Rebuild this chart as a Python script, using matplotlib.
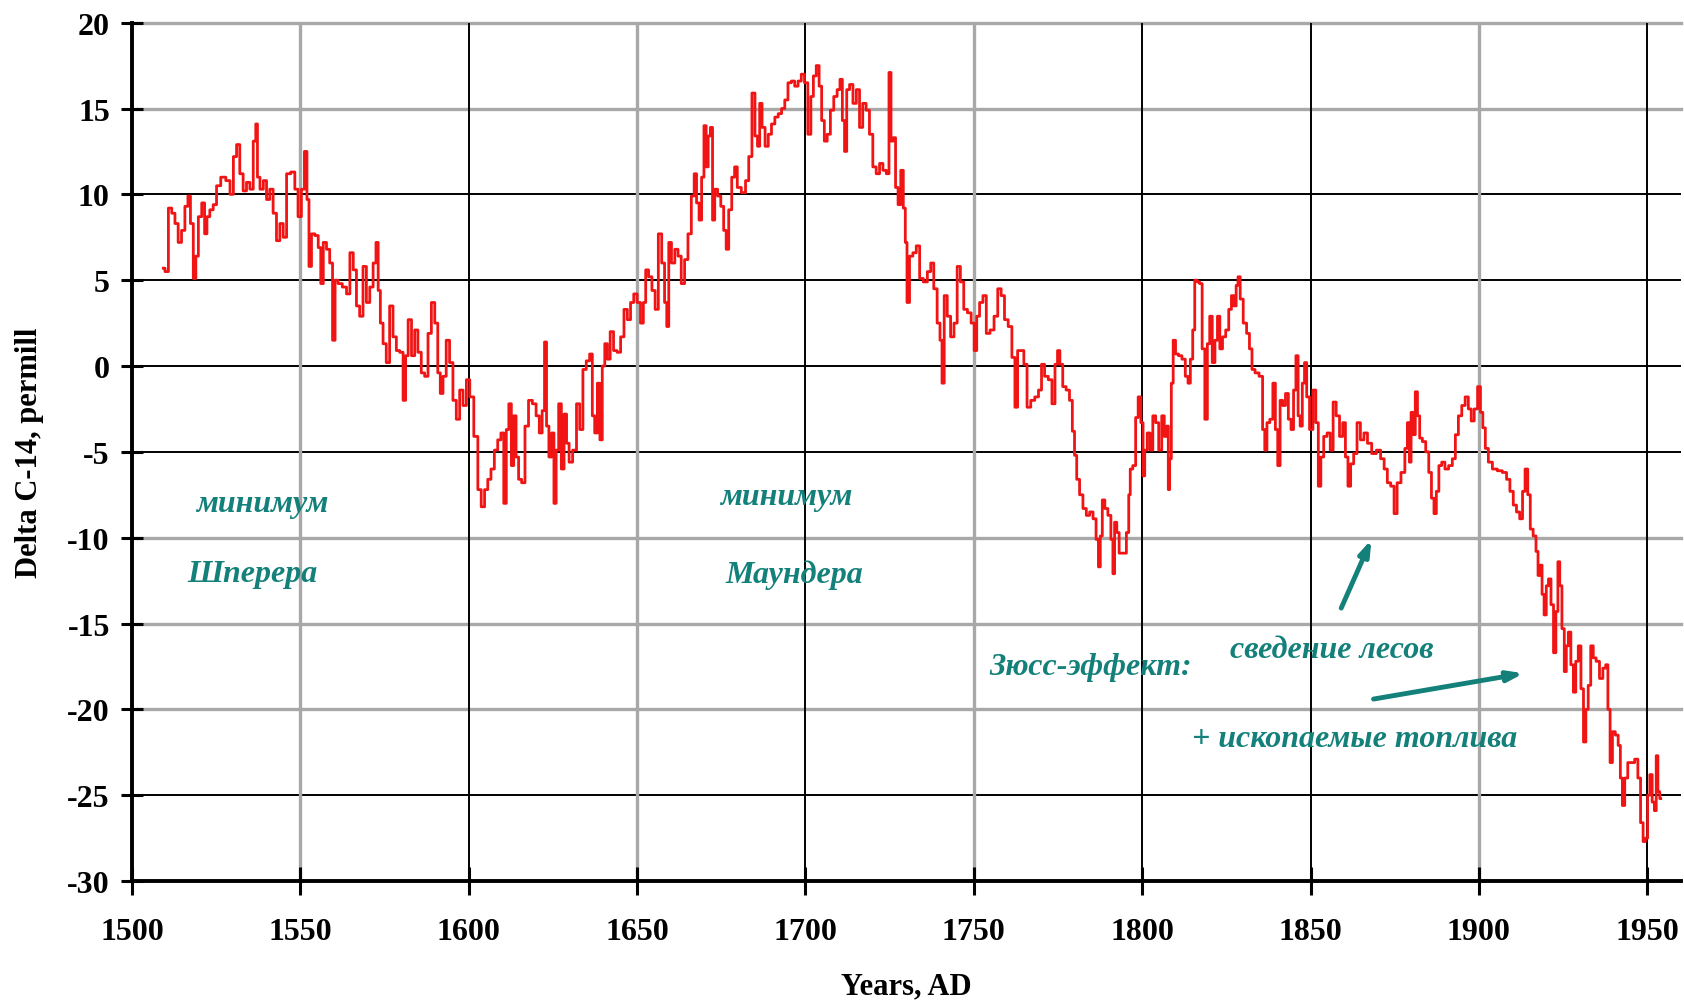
import matplotlib
matplotlib.use('Agg')
import matplotlib.pyplot as plt
import numpy as np

plt.rcParams['font.family'] = ['Liberation Serif', 'DejaVu Serif']
plt.rcParams['axes.unicode_minus'] = False

# Delta C-14 (permill), (year, value), by period
seg_1500 = [(1509.3, 5.7), (1510.3, 5.5), (1511.3, 9.2), (1512.3, 8.9), (1513.2, 8.3), (1514.2, 7.2),
            (1515.2, 7.9), (1516.2, 9.3), (1517.0, 9.9), (1517.7, 8.3), (1518.7, 5.1), (1519.2, 6.4),
            (1520.2, 8.7), (1521.2, 9.5), (1521.9, 7.7), (1522.6, 8.7), (1523.6, 9.1), (1524.6, 9.4),
            (1525.6, 10.5), (1527.1, 11.0), (1528.6, 10.8), (1529.6, 10.0), (1530.6, 12.2), (1531.5, 12.9),
            (1532.5, 11.2), (1533.5, 10.2), (1534.5, 10.7), (1535.5, 10.3), (1536.5, 13.1), (1537.0, 14.1),
            (1537.5, 11.0), (1538.5, 10.3), (1539.5, 10.8), (1540.4, 9.7), (1541.4, 10.3), (1542.4, 8.9),
            (1543.4, 7.3), (1544.4, 8.3), (1545.4, 7.5), (1546.4, 11.2), (1547.9, 11.3), (1548.8, 10.3),
            (1549.8, 8.7), (1550.8, 10.3), (1551.6, 12.5), (1552.3, 9.7), (1552.8, 5.8), (1553.8, 7.7),
            (1554.8, 7.6), (1555.8, 6.9), (1556.3, 4.8), (1557.3, 7.2), (1558.2, 6.8), (1559.2, 6.0),
            (1559.9, 1.5), (1560.7, 5.0), (1561.7, 4.8), (1563.2, 4.6), (1564.2, 4.2), (1565.2, 6.6),
            (1566.2, 5.6), (1567.1, 3.5), (1568.1, 2.9), (1569.1, 5.8), (1570.1, 3.7), (1571.1, 4.6),
            (1572.1, 6.0), (1572.8, 7.2), (1573.4, 4.4), (1574.1, 2.5), (1575.0, 1.3), (1576.0, 0.2),
            (1577.0, 3.5), (1578.0, 1.7), (1579.0, 0.9), (1580.0, 0.8), (1581.0, -2.0), (1581.5, 0.6),
            (1582.5, 2.7), (1583.5, 0.6), (1584.4, 2.1), (1585.4, 0.8), (1586.4, -0.4), (1587.4, -0.6),
            (1588.4, 1.9), (1589.4, 3.7), (1590.4, 2.5), (1591.2, -0.4), (1591.9, -1.6), (1592.8, -0.6),
            (1593.8, 1.5), (1594.8, 0.2), (1595.8, -2.0), (1596.8, -3.1), (1597.8, -1.4), (1598.8, -2.3),
            (1599.8, -0.8)]

seg_1600 = [(1600.8, -1.8), (1602.2, -4.1), (1603.2, -7.2), (1604.2, -8.2), (1605.2, -7.2), (1606.1, -6.6),
            (1607.1, -6.0), (1608.1, -4.9), (1609.1, -4.3), (1610.0, -3.9), (1610.8, -8.0), (1611.5, -3.7),
            (1612.3, -2.2), (1613.0, -5.8), (1613.7, -2.9), (1614.4, -5.3), (1615.2, -6.6), (1616.2, -6.8),
            (1617.2, -3.5), (1618.3, -2.0), (1619.5, -2.2), (1620.5, -2.9), (1621.4, -3.9), (1622.2, -2.6),
            (1622.8, 1.4), (1623.4, -3.5), (1624.2, -5.3), (1625.0, -3.9), (1625.6, -8.0), (1626.3, -4.9),
            (1627.1, -2.2), (1627.9, -6.0), (1628.7, -2.8), (1629.4, -4.5), (1630.2, -5.6), (1631.5, -4.9),
            (1632.5, -2.2), (1633.4, -3.7), (1634.4, -0.2), (1635.4, 0.3), (1636.4, 0.7), (1637.0, -2.9),
            (1637.8, -3.9), (1638.6, -1.0), (1639.3, -4.3), (1640.0, 0.0), (1640.8, 1.3), (1641.5, 0.4),
            (1642.5, 2.0), (1643.5, 0.9), (1644.6, 0.8), (1645.6, 1.7), (1646.6, 3.3), (1647.6, 2.7),
            (1648.5, 3.7), (1649.5, 4.2), (1650.5, 3.7), (1651.5, 2.5), (1652.2, 3.7), (1652.9, 5.6),
            (1653.9, 5.2), (1654.9, 4.4), (1655.8, 3.3), (1656.8, 7.7), (1657.8, 6.0), (1658.5, 3.7),
            (1659.1, 2.3), (1659.7, 7.2), (1660.7, 6.0), (1661.7, 6.8), (1662.6, 6.4), (1663.6, 4.8),
            (1664.6, 6.2), (1665.6, 7.7), (1666.6, 9.9), (1667.3, 11.2), (1668.0, 9.5), (1668.8, 8.5),
            (1669.5, 11.0), (1670.2, 14.0), (1670.8, 11.6), (1671.4, 13.4), (1672.1, 13.9), (1672.7, 8.5),
            (1673.4, 10.3), (1674.4, 9.9), (1675.3, 9.3), (1676.1, 7.9), (1676.8, 6.8), (1677.6, 9.1),
            (1678.6, 11.0), (1679.3, 11.6), (1680.2, 10.4), (1681.7, 10.1), (1682.7, 10.8), (1683.6, 12.2),
            (1684.6, 15.9), (1685.4, 13.4), (1686.1, 12.8), (1686.7, 15.3), (1687.5, 13.9), (1688.5, 12.8),
            (1689.4, 13.5), (1690.4, 14.1), (1691.4, 14.5), (1692.4, 14.7), (1693.4, 15.0), (1694.3, 15.5),
            (1695.3, 16.5), (1696.3, 16.6), (1697.3, 16.3), (1698.3, 16.6), (1699.2, 17.0)]

seg_1700 = [(1700.2, 16.5), (1701.2, 13.5), (1702.0, 15.7), (1702.7, 16.9), (1703.7, 17.5), (1704.4, 16.3),
            (1705.2, 14.3), (1706.0, 13.1), (1706.9, 13.5), (1707.9, 14.9), (1708.9, 15.7), (1709.9, 16.1),
            (1710.6, 16.7), (1711.3, 14.3), (1711.9, 12.5), (1712.6, 16.1), (1713.6, 16.4), (1714.6, 15.3),
            (1715.6, 16.1), (1716.5, 13.9), (1717.5, 15.3), (1718.5, 14.9), (1719.5, 13.5), (1720.5, 11.6),
            (1721.5, 11.2), (1722.5, 11.8), (1723.5, 11.4), (1724.5, 11.2), (1725.1, 17.1), (1725.7, 13.1),
            (1726.4, 13.3), (1727.1, 10.4), (1727.9, 9.4), (1728.7, 11.4), (1729.4, 9.2), (1729.9, 7.2),
            (1730.4, 3.7), (1731.4, 6.4), (1732.4, 6.6), (1733.4, 7.0), (1734.4, 5.1), (1735.6, 4.9),
            (1736.8, 5.5), (1737.6, 6.0), (1738.6, 4.5), (1739.6, 2.5), (1740.3, 1.5), (1740.8, -1.0),
            (1741.6, 4.1), (1742.6, 2.9), (1743.6, 1.7), (1744.6, 2.5), (1745.5, 5.8), (1746.5, 4.9),
            (1747.5, 3.3), (1748.7, 3.1), (1749.7, 2.5), (1750.5, 0.9), (1751.2, 2.9), (1752.2, 3.7),
            (1753.2, 4.1), (1754.2, 1.9), (1755.4, 2.1), (1756.6, 2.9), (1757.6, 4.5), (1758.6, 4.1),
            (1759.6, 2.7), (1760.8, 2.3), (1761.8, 0.5), (1762.6, -2.4), (1763.4, 0.9), (1764.4, 0.9),
            (1765.3, 0.1), (1766.3, -2.4), (1767.5, -2.0), (1768.7, -1.8), (1769.7, -1.4), (1770.5, 0.1),
            (1771.5, -0.6), (1772.7, -0.8), (1773.7, -2.2), (1774.5, 0.1), (1775.2, 0.9), (1775.9, 0.1),
            (1776.9, -1.2), (1777.9, -1.4), (1778.9, -2.0), (1779.6, -3.8), (1780.2, -5.2), (1780.9, -6.6),
            (1781.9, -7.5), (1782.9, -8.3), (1783.9, -8.7), (1784.9, -8.5), (1785.9, -8.9), (1786.7, -10.1),
            (1787.3, -11.7), (1787.8, -9.9), (1788.5, -7.8), (1789.3, -8.3), (1790.3, -8.7), (1791.1, -10.1),
            (1791.5, -12.1), (1792.1, -9.1), (1792.8, -9.7), (1793.5, -10.9), (1794.8, -10.9), (1795.8, -9.7),
            (1796.2, -7.5), (1796.7, -6.0), (1797.7, -5.8), (1798.4, -3.0), (1799.2, -1.8)]

seg_1800 = [(1800.0, -3.3), (1800.5, -6.4), (1801.0, -4.9), (1802.0, -3.9), (1802.7, -4.9), (1803.6, -2.9),
            (1804.4, -3.3), (1805.4, -4.9), (1806.2, -2.9), (1806.9, -4.1), (1807.6, -3.5), (1807.9, -7.2),
            (1808.4, -5.4), (1808.9, -1.0), (1809.5, 1.5), (1810.3, 0.7), (1811.3, 0.6), (1812.3, 0.4),
            (1813.3, -0.6), (1813.9, -1.0), (1814.7, 0.4), (1815.3, 2.1), (1815.9, 5.0), (1816.7, 4.9),
            (1817.4, 4.8), (1818.2, 1.0), (1819.0, -3.1), (1819.7, 1.3), (1820.4, 2.9), (1821.2, 0.2),
            (1822.0, 1.5), (1822.7, 2.9), (1823.4, 1.0), (1824.3, 1.7), (1825.3, 2.1), (1826.1, 3.3),
            (1826.9, 4.1), (1827.6, 3.5), (1828.2, 4.7), (1828.7, 5.2), (1829.5, 3.9), (1830.5, 2.5),
            (1831.5, 1.9), (1832.2, 1.0), (1833.0, -0.2), (1834.0, -0.4), (1835.4, -0.6), (1836.1, -3.7),
            (1836.7, -4.9), (1837.4, -3.3), (1838.4, -3.1), (1839.2, -1.0), (1839.9, -3.7), (1840.6, -5.8),
            (1841.3, -2.0), (1842.1, -2.3), (1843.0, -1.6), (1843.8, -3.1), (1844.6, -3.7), (1845.3, -1.4),
            (1846.0, 0.6), (1846.6, -2.9), (1847.2, -3.5), (1847.9, -1.0), (1848.5, 0.2), (1849.2, -1.8),
            (1850.2, -3.7), (1851.2, -1.4), (1851.9, -3.3), (1852.7, -7.0), (1853.4, -5.3), (1854.4, -4.1),
            (1855.4, -3.9), (1856.3, -4.9), (1857.1, -2.1), (1858.1, -2.9), (1859.1, -4.1), (1860.0, -3.3),
            (1860.7, -5.3), (1861.5, -7.0), (1862.3, -5.7), (1863.3, -5.1), (1864.3, -3.3), (1865.3, -4.3),
            (1866.4, -3.9), (1867.4, -4.5), (1868.9, -5.1), (1870.2, -4.9), (1871.4, -5.4), (1872.3, -6.0),
            (1873.3, -6.8), (1874.3, -7.0), (1875.3, -8.6), (1876.1, -6.8)]

seg_1900 = [(1877.6, -6.2), (1878.4, -4.8), (1879.1, -3.3), (1879.6, -5.6), (1880.1, -2.7), (1880.8, -4.0),
            (1881.4, -1.5), (1882.1, -2.9), (1882.7, -4.2), (1883.7, -4.4), (1884.7, -5.0), (1885.5, -6.2),
            (1886.3, -7.7), (1887.0, -8.6), (1887.7, -7.3), (1888.5, -5.8), (1889.4, -5.6), (1890.4, -6.0),
            (1891.6, -5.8), (1892.6, -5.4), (1893.4, -4.0), (1894.4, -2.9), (1895.4, -2.3), (1896.4, -1.8),
            (1897.3, -2.5), (1898.1, -3.2), (1899.1, -2.5), (1900.1, -1.2), (1900.8, -2.7), (1901.5, -3.6),
            (1902.3, -4.8), (1903.3, -5.6), (1904.7, -6.0), (1906.2, -6.1), (1907.7, -6.2), (1908.7, -6.6),
            (1909.7, -7.3), (1910.7, -8.1), (1911.6, -8.5), (1912.6, -8.9), (1913.3, -7.3), (1914.1, -6.0),
            (1914.9, -7.5), (1915.6, -9.5), (1916.6, -9.9), (1917.3, -10.8), (1917.8, -12.2), (1918.5, -11.6),
            (1919.0, -13.3), (1919.7, -14.5), (1920.3, -12.8), (1921.0, -12.4), (1921.8, -13.9), (1922.5, -16.7),
            (1923.2, -14.3), (1923.7, -11.4), (1924.3, -12.8), (1925.0, -15.3), (1925.7, -17.8), (1926.2, -16.3),
            (1926.9, -15.5), (1927.7, -17.4), (1928.4, -19.0), (1929.1, -17.2), (1929.9, -16.3), (1930.7, -18.8),
            (1931.4, -21.9), (1932.1, -20.0), (1932.8, -18.6), (1933.6, -16.3), (1934.3, -17.0), (1935.3, -17.2),
            (1936.3, -18.2), (1937.3, -17.6), (1938.0, -17.4), (1938.6, -20.0), (1939.3, -23.1), (1940.0, -21.3),
            (1941.0, -21.5), (1941.7, -22.1), (1942.3, -24.0), (1942.9, -25.6), (1943.7, -24.0), (1944.7, -23.1),
            (1945.7, -23.1), (1946.8, -22.9), (1947.6, -24.0), (1948.4, -26.6), (1949.1, -27.7), (1949.8, -27.5),
            (1950.4, -25.0), (1951.1, -23.8), (1951.8, -25.4), (1952.4, -25.9), (1952.9, -22.7), (1953.4, -24.8),
            (1954.0, -25.2)]

x_ticks = [1500, 1550, 1600, 1650, 1700, 1750, 1800, 1850, 1900, 1950]
y_ticks = [-30, -25, -20, -15, -10, -5, 0, 5, 10, 15, 20]
# the original mixes black and grey grid lines
grid_black_x = [1600, 1700, 1800, 1850, 1950]
grid_gray_x = [1550, 1650, 1750, 1900]
grid_black_y = [-25, -5, 0, 5, 10]
grid_gray_y = [-20, -15, -10, 15, 20]

teal = '#13807a'
red = '#f01414'

data = np.array(seg_1500 + seg_1600 + seg_1700 + seg_1800 + seg_1900)
years, delta = data[:, 0], data[:, 1]

fig = plt.figure(figsize=(16.84, 10.03), dpi=100)
ax = fig.add_axes([0.0784, 0.1206, 0.9198, 0.8558])

for y in grid_gray_y:
    ax.axhline(y, color='#a8a8a8', lw=2.4, zorder=1, clip_on=False)
for y in grid_black_y:
    ax.axhline(y, color='black', lw=1.4, zorder=1)
for x in grid_gray_x:
    ax.axvline(x, color='#a8a8a8', lw=2.4, zorder=1)
for x in grid_black_x:
    ax.axvline(x, color='black', lw=1.4, zorder=1)

ax.plot(years, delta, color=red, lw=2.0, drawstyle='steps-mid', zorder=3)

ax.set_xlim(1500, 1960)
ax.set_ylim(-30, 20)
ax.set_xticks(x_ticks)
ax.set_yticks(y_ticks)
ax.tick_params(axis='both', direction='inout', width=2.2, labelsize=23, colors='black')
ax.tick_params(axis='x', length=20, pad=16)
ax.tick_params(axis='y', length=16, pad=8)
for lbl in ax.get_xticklabels() + ax.get_yticklabels():
    lbl.set_fontweight('bold')

for side in ['top', 'right']:
    ax.spines[side].set_visible(False)
for side in ['left', 'bottom']:
    ax.spines[side].set_linewidth(2.8)
    ax.spines[side].set_zorder(4)

ax.set_xlabel('Years, AD', fontsize=22, fontweight='bold')
ax.xaxis.set_label_coords(0.5, -0.105)
ax.set_ylabel('Delta C-14, permill', fontsize=22, fontweight='bold')
ax.yaxis.set_label_coords(-0.057, 0.5)

# annotations
note = dict(color=teal, fontsize=23, fontweight='bold', style='italic', ha='center', va='center')
ax.text(1538.6, -8.0, 'минимум', **note)
ax.text(1535.7, -12.1, 'Шперера', **note)
ax.text(1694.4, -7.6, 'минимум', **note)
ax.text(1696.6, -12.1, 'Маундера', **note)
ax.text(1784.6, -17.5, 'Зюсс-эффект:', **note)
ax.text(1856.3, -16.5, 'сведение лесов', **note)
ax.text(1863.0, -21.7, '+ ископаемые топлива', **note)

arrow = dict(arrowstyle='-|>,head_length=0.9,head_width=0.3', color=teal, lw=3.5,
             shrinkA=0, shrinkB=0)
ax.annotate('', xy=(1868.1, -10.1), xytext=(1859.1, -14.1), arrowprops=arrow)
ax.annotate('', xy=(1913.3, -17.9), xytext=(1868.7, -19.4), arrowprops=arrow)

fig.savefig('out.png', dpi=100)
